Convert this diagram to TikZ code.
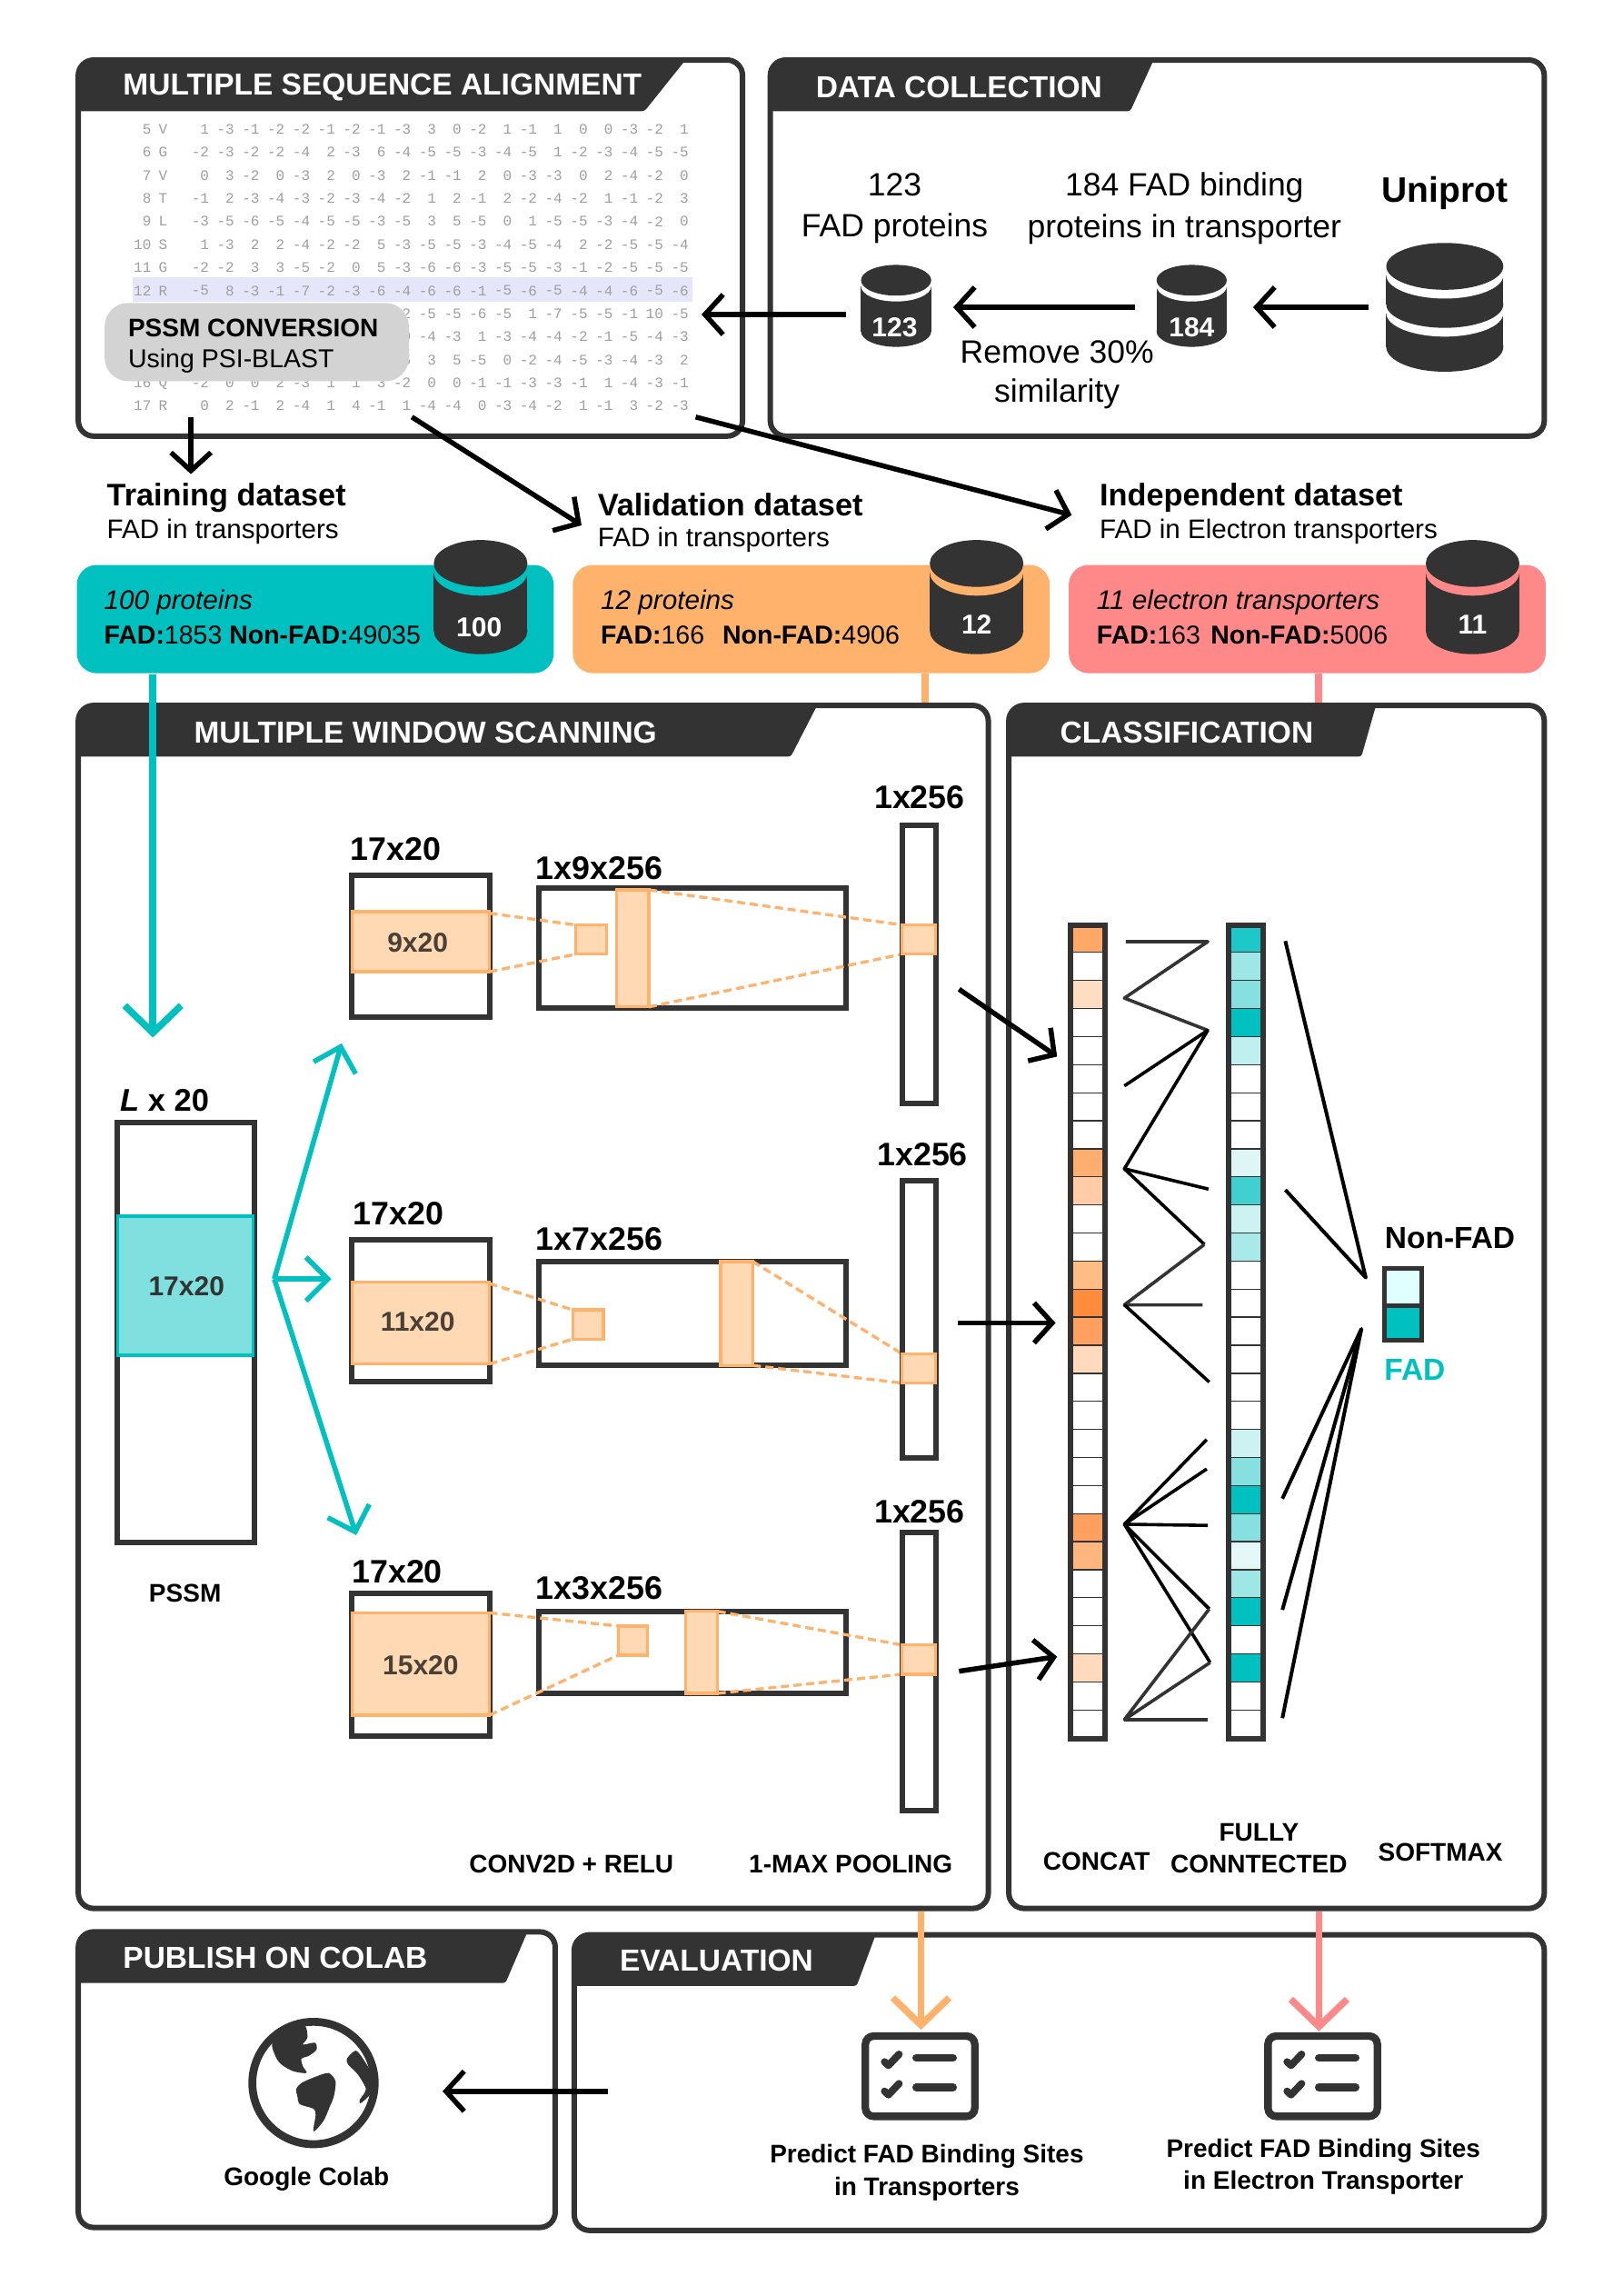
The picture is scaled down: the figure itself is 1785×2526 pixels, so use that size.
\documentclass[tikz,border=0pt]{standalone}
\usepackage{fontspec}
\setmainfont{Liberation Sans}
\newfontfamily\monof{Liberation Mono}
\usetikzlibrary{arrows.meta}
\definecolor{dk}{HTML}{333333}
\definecolor{teal2}{HTML}{00C0C0}
\definecolor{orng}{HTML}{FFB26B}
\definecolor{orlt}{HTML}{FFD9B3}
\definecolor{pnk}{HTML}{FF8888}
\definecolor{telt}{HTML}{80E0E0}
\definecolor{gbox}{HTML}{D3D3D3}
\definecolor{hilite}{HTML}{E6E6FA}
\definecolor{wintxt}{HTML}{4A4036}
\newcommand{\fs}[1]{\fontsize{#1}{40}\selectfont\setlength{\baselineskip}{1.28\dimexpr#1pt\relax}}
\tikzset{
 panel/.style={draw=dk,line width=6pt,rounded corners=17pt,fill=white},
 panelline/.style={draw=dk,line width=6pt,rounded corners=17pt},
 ttl/.style={anchor=west,inner sep=0,text=white,font=\fs{33.5}\bfseries},
 lbl/.style={inner sep=0,font=\fs{35.5}},
 hd/.style={anchor=west,inner sep=0,font=\fs{34.3}\bfseries},
 sub/.style={anchor=west,inner sep=0,font=\fs{29.6}},
 bxtxt/.style={anchor=west,inner sep=0,font=\fs{28.5}},
 bxit/.style={anchor=west,inner sep=0,font=\fs{29.7}\itshape},
 dim/.style={inner sep=0,font=\fs{35.8}\bfseries},
 capt/.style={inner sep=0,font=\fs{28}\bfseries,align=center},
 wintext/.style={inner sep=0,text=wintxt,font=\fs{30}\bfseries},
 box/.style={draw=dk,line width=6pt,fill=white},
 win/.style={draw=orng,line width=3.3pt,fill=orlt},
 dsh/.style={draw=orng,line width=3.3pt,dash pattern=on 9pt off 5pt},
 arr/.style={draw=black,line width=5.5pt,-{Straight Barb[length=20pt,width=44pt,line width=5.5pt]}},
 farr/.style={draw=teal2,line width=5.5pt,-{Straight Barb[length=24pt,width=48pt,line width=5.5pt]}},
 barr/.style={line width=7.5pt,-{Straight Barb[length=30pt,width=62pt,line width=7.5pt]}},
 netln/.style={draw=black,line width=3.6pt,line join=round},
 netgr/.style={draw=dk,line width=3.6pt,line join=round},
 mono/.style={inner sep=0,text=gray!75,font=\monof\fs{16}},
}
% centre x, top, half width, bottom, ry, gap, gap colour
\newcommand{\cyl}[7]{%
 \fill[dk] (#1-#3,#2+#5+#6) rectangle (#1+#3,#4-#5);
 \fill[dk] (#1,#4-#5) ellipse [x radius=#3,y radius=#5];
 \fill[#7] (#1,#2+#5+#6) ellipse [x radius=#3,y radius=#5];
 \fill[dk] (#1,#2+#5) ellipse [x radius=#3,y radius=#5];
}
% x1,y1,x2,y2, tab top x, tab bottom x
\newcommand{\tabhead}[6]{%
 \fill[panel,draw=none] (#1,#2) rectangle (#3,#4);
 \fill[dk,rounded corners=3pt] (#1,#2+12) -- (#1,#2+35) -- (#6,#2+35) -- (#5,#2) -- (#1+3,#2) -- cycle;
}
% cell column: left x, list of colours
\newcommand{\cellcol}[2]{%
 \foreach \cc [count=\ii] in {#2}{%
  \definecolor{cellc}{HTML}{\cc}
  \fill[cellc] (#1,{632+(\ii-1)*556/29}) rectangle (#1+24,{632+\ii*556/29});
  \ifnum\ii<29 \draw[dk,line width=2.6pt] (#1,{632+\ii*556/29}) -- (#1+24,{632+\ii*556/29}); \fi
 }
 \draw[dk,line width=6pt] (#1,632) rectangle (#1+24,1188);
}
\newcommand{\psrow}[4]{% y, index, letter, start col ; values in \rowvals
 \node[mono,anchor=east] at (103,#1) {#2};
 \node[mono] at (111,#1) {#3};
 \foreach \vv [count=\jj from #4] in \rowvals {%
  \node[mono,anchor=east] at ({142.5+(\jj-1)*17.25},#1) {\vv};
 }
}
\newcommand{\chk}[2]{%
 \begin{scope}[shift={(#1pt,-#2pt)},x=.3333pt,y=-.3333pt]
  \draw[dk,line width=8.3pt,rounded corners=9pt,fill=white] (37,30) rectangle (398,295);
  \draw[dk,line width=8.7pt,line cap=round] (205,102) -- (326,102);
  \draw[dk,line width=8.7pt,line cap=round] (205,199) -- (326,199);
  \draw[dk,line width=8pt,line cap=round,line join=round] (100,115) -- (113,127) -- (148,90);
  \draw[dk,line width=8pt,line cap=round,line join=round] (100,212) -- (113,224) -- (148,187);
 \end{scope}
}
\begin{document}
\begin{tikzpicture}
\useasboundingbox (0pt,0pt) rectangle (1785pt,-2526pt);
\fill[white] (0pt,0pt) rectangle (1785pt,-2526pt);
\begin{scope}[xshift=0.8pt,x=1.61pt,y=-1.6101pt,every node/.style={yshift=-1.5pt}]

% ===== panels =====
\tabhead{53}{41}{507}{298}{468}{440}
\tabhead{526}{41}{1055}{298}{788}{772}
\tabhead{53}{482}{675}{1304}{558}{540}
\tabhead{689}{482}{1055}{1304}{940}{930}
\tabhead{53}{1320}{379}{1522}{360}{345}
\tabhead{392}{1322}{1055}{1524}{598}{585}

% ===== PSSM matrix =====
\fill[hilite] (90,189.5) rectangle (473,206.5);
\def\rowvals{1,-3,-1,-2,-2,-1,-2,-1,-3,3,0,-2,1,-1,1,0,0,-3,-2,1}\psrow{87.4}{5}{V}{1}
\def\rowvals{-2,-3,-2,-2,-4,2,-3,6,-4,-5,-5,-3,-4,-5,1,-2,-3,-4,-5,-5}\psrow{103.15}{6}{G}{1}
\def\rowvals{0,3,-2,0,-3,2,0,-3,2,-1,-1,2,0,-3,-3,0,2,-4,-2,0}\psrow{118.9}{7}{V}{1}
\def\rowvals{-1,2,-3,-4,-3,-2,-3,-4,-2,1,2,-1,2,-2,-4,-2,1,-1,-2,3}\psrow{134.65}{8}{T}{1}
\def\rowvals{-3,-5,-6,-5,-4,-5,-5,-3,-5,3,5,-5,0,1,-5,-5,-3,-4,-2,0}\psrow{150.4}{9}{L}{1}
\def\rowvals{1,-3,2,2,-4,-2,-2,5,-3,-5,-5,-3,-4,-5,-4,2,-2,-5,-5,-4}\psrow{166.15}{10}{S}{1}
\def\rowvals{-2,-2,3,3,-5,-2,0,5,-3,-6,-6,-3,-5,-5,-3,-1,-2,-5,-5,-5}\psrow{181.9}{11}{G}{1}
\def\rowvals{-5,8,-3,-1,-7,-2,-3,-6,-4,-6,-6,-1,-5,-6,-5,-4,-4,-6,-5,-6}\psrow{197.65}{12}{R}{1}
\def\rowvals{-2,-5,-5,-6,-5,1,-7,-5,-5,-1,10,-5}\psrow{213.4}{}{}{9}
\def\rowvals{0,-4,-3,1,-3,-4,-4,-2,-1,-5,-4,-3}\psrow{229.15}{}{}{9}
\def\rowvals{-5,3,5,-5,0,-2,-4,-5,-3,-4,-3,2}\psrow{244.9}{}{}{9}
\def\rowvals{-2,0,0,2,-3,1,1,3,-2,0,0,-1,-1,-3,-3,-1,1,-4,-3,-1}\psrow{260.65}{16}{Q}{1}
\def\rowvals{0,2,-1,2,-4,1,4,-1,1,-4,-4,0,-3,-4,-2,1,-1,3,-2,-3}\psrow{276.4}{17}{R}{1}
\fill[gbox,rounded corners=26pt] (71,207) rectangle (279,260.5);
\node[anchor=west,inner sep=0,font=\fs{28}\bfseries] (pssmc) at (87,223) {PSSM CONVERSION};
\node[anchor=west,inner sep=0,font=\fs{28.5}] (psib) at (87,245.5) {Using PSI-BLAST};

% ===== panel outlines =====
\draw[panelline] (53,41) rectangle (507,298);
\draw[panelline] (526,41) rectangle (1055,298);
\draw[panelline] (53,482) rectangle (675,1304);
\draw[panelline] (689,482) rectangle (1055,1304);
\draw[panelline] (53,1320) rectangle (379,1522);
\draw[panelline] (392,1322) rectangle (1055,1524);

% ===== titles =====
\node[ttl] (t1) at (83.5,58.5) {MULTIPLE SEQUENCE ALIGNMENT};
\node[ttl] (t2) at (557,58.5) {DATA COLLECTION};
\node[ttl] (t3) at (132,499.5) {MULTIPLE WINDOW SCANNING};
\node[ttl] (t4) at (724,499.5) {CLASSIFICATION};
\node[ttl] (t5) at (83.5,1337) {PUBLISH ON COLAB};
\node[ttl] (t6) at (423,1339) {EVALUATION};

% ===== data collection =====
\cyl{612}{181}{24}{237}{10.5}{4}{white}
\cyl{814}{181}{24}{237}{10.5}{4}{white}
\fill[dk] (947,214) rectangle (1027,237);
\fill[dk] (987,237) ellipse [x radius=40,y radius=17];
\fill[white] (987,214) ellipse [x radius=40,y radius=16];
\fill[dk] (947,188) rectangle (1027,208);
\fill[dk] (987,208) ellipse [x radius=40,y radius=16];
\fill[white] (987,188) ellipse [x radius=40,y radius=16];
\fill[dk] (987,182) ellipse [x radius=40,y radius=16];
\node[inner sep=0,text=white,font=\fs{30}\bfseries] (n123) at (611,223) {123};
\node[inner sep=0,text=white,font=\fs{30}\bfseries] (n184) at (814,223) {184};
\node[lbl,align=center] (l123) at (611,141.5) {123\\FAD proteins};
\node[lbl,align=center] (l184) at (809,141.5) {184 FAD binding\\proteins in transporter};
\node[inner sep=0,font=\fs{39}\bfseries] (uni) at (987,131) {Uniprot};
\node[lbl,align=center] (rem) at (722,255) {Remove 30\%\\[-3pt]similarity};

% ===== dataset headers and boxes =====
\node[hd] (h1) at (72.5,339) {Training dataset};
\node[sub] (s1) at (72.5,362) {FAD in transporters};
\node[hd] (h2) at (408,344) {Validation dataset};
\node[sub] (s2) at (408,368) {FAD in transporters};
\node[hd] (h3) at (751,339) {Independent dataset};
\node[sub] (s3) at (751,362) {FAD in Electron transporters};

\fill[teal2,rounded corners=22pt] (52,386) rectangle (378,460);
\fill[orng,rounded corners=22pt] (391,386) rectangle (717,460);
\fill[pnk,rounded corners=22pt] (730,386) rectangle (1056,460);
\draw[orng,line width=8pt] (632,460) -- (632,480);
\draw[pnk,line width=8pt] (901,460) -- (901,480);

\cyl{328}{369}{32}{447}{16}{6}{teal2}
\cyl{667}{369}{32}{447}{16}{6}{orng}
\cyl{1006}{369}{32}{447}{16}{6}{pnk}
\node[inner sep=0,text=white,font=\fs{30}\bfseries] (n100) at (327,428) {100};
\node[inner sep=0,text=white,font=\fs{30}\bfseries] (n12) at (667,426) {12};
\node[inner sep=0,text=white,font=\fs{30}\bfseries] (n11) at (1006,426) {11};
\node[bxit] (b1) at (70.5,411) {100 proteins};
\node[bxtxt] (b1b) at (70.5,433) {\textbf{FAD:}1853 \textbf{Non-FAD:}49035};
\node[bxit] (b2) at (410,411) {12 proteins};
\node[bxtxt] (b2b) at (410,433) {\textbf{FAD:}166\hspace{.7em}\textbf{Non-FAD:}4906};
\node[bxit] (b3) at (749,411) {11 electron transporters};
\node[bxtxt] (b3b) at (749,433) {\textbf{FAD:}163\hspace{.4em}\textbf{Non-FAD:}5006};

% ===== top connectors =====
\coordinate (a1s) at (578,214); \coordinate (a1e) at (479,214);
\coordinate (a2s) at (775,209); \coordinate (a2e) at (651,209);
\coordinate (a3s) at (935,209); \coordinate (a3e) at (856,209);
\coordinate (a4s) at (130,284); \coordinate (a4e) at (130,323);
\coordinate (a5s) at (281,284); \coordinate (a5e) at (397,358);
\coordinate (a6s) at (475,284); \coordinate (a6e) at (732,351);
\draw[arr] (a1s) -- (a1e);
\draw[arr] (a2s) -- (a2e);
\draw[arr] (a3s) -- (a3e);
\draw[arr] (a4s) -- (a4e);
\draw[arr] (a5s) -- (a5e);
\draw[arr] (a6s) -- (a6e);

% ===== PSSM =====
\draw[box] (79.5,767) rectangle (173.5,1054);
\draw[draw=teal2,line width=3.3pt,fill=telt] (80,831) rectangle (172.5,926);
\node[inner sep=0,font=\fs{30}\bfseries,text=dk] (w17) at (127,878) {17x20};
\node[inner sep=0,font=\fs{34.5}\bfseries] (lx) at (112,751) {\textit{L} x 20};
\node[capt] (pssm) at (126,1088) {PSSM};

% ===== row 1 =====
\draw[box] (240,598) rectangle (334,695);
\draw[win] (240,623) rectangle (334,664);
\node[wintext] (w1) at (285,643) {9x20};
\node[dim] (d1) at (270,579) {17x20};
\draw[box] (368,607) rectangle (578,689);
\draw[dsh] (334,624) -- (393,632);
\draw[dsh] (334,664) -- (393,652);
\draw[dsh] (443,608) -- (616,632);
\draw[dsh] (443,688) -- (616,652);
\draw[win] (393,632) rectangle (414,652);
\draw[win] (421,608) rectangle (443,688);
\node[dim] (c1) at (409,592) {1x9x256};
\draw[box] (616,564) rectangle (639,754);
\draw[win] (616,632) rectangle (639,652);
\node[dim] (m1) at (628,544) {1x256};

% ===== row 2 =====
\draw[box] (240,847) rectangle (334,944);
\draw[win] (240,876) rectangle (334,932);
\node[wintext] (w2) at (285,902) {11x20};
\node[dim] (d2) at (272,828) {17x20};
\draw[box] (368,862) rectangle (578,933);
\draw[dsh] (334,877) -- (391,895);
\draw[dsh] (334,932) -- (391,915);
\draw[dsh] (514,862) -- (616,925);
\draw[dsh] (514,933) -- (616,945);
\draw[win] (391,895) rectangle (412,915);
\draw[win] (492,862) rectangle (514,933);
\node[dim] (c2) at (409,846) {1x7x256};
\draw[box] (616,807) rectangle (639,996);
\draw[win] (616,925) rectangle (639,945);
\node[dim] (m2) at (630,788) {1x256};

% ===== row 3 =====
\draw[box] (240,1089) rectangle (334,1186);
\draw[win] (240,1102) rectangle (334,1172);
\node[wintext] (w3) at (287,1137) {15x20};
\node[dim] (d3) at (271,1073) {17x20};
\draw[box] (368,1101) rectangle (578,1157);
\draw[dsh] (334,1102) -- (422,1111);
\draw[dsh] (334,1172) -- (422,1131);
\draw[dsh] (490,1101) -- (616,1124);
\draw[dsh] (490,1157) -- (616,1144);
\draw[win] (422,1111) rectangle (442,1131);
\draw[win] (468,1101) rectangle (490,1157);
\node[dim] (c3) at (409,1084) {1x3x256};
\draw[box] (616,1047) rectangle (639,1237);
\draw[win] (616,1124) rectangle (639,1144);
\node[dim] (m3) at (628,1032) {1x256};

% ===== teal arrows =====
\coordinate (ts) at (104,460); \coordinate (te) at (104,708);
\draw[barr,draw=teal2] (ts) -- (te);
\coordinate (fan) at (187,873);
\coordinate (f1) at (233,712); \coordinate (f2) at (226,873); \coordinate (f3) at (243,1048);
\draw[farr] (fan) -- (f1);
\draw[farr] (fan) -- (f2);
\draw[farr] (fan) -- (f3);

% ===== black arrows to concat =====
\coordinate (k1s) at (655,675); \coordinate (k1e) at (722,721);
\coordinate (k2s) at (654,903); \coordinate (k2e) at (721,903);
\coordinate (k3s) at (655,1141); \coordinate (k3e) at (722,1131);
\draw[arr] (k1s) -- (k1e);
\draw[arr] (k2s) -- (k2e);
\draw[arr] (k3s) -- (k3e);

% ===== columns =====
\cellcol{731}{FFA868,FFFFFF,FFDDC0,FFFFFF,FFFFFF,FFFFFF,FFFFFF,FFFFFF,FFAE70,FFCCA5,FFFFFF,FFFFFF,FFBC85,FF8C3C,FFA060,FFDABC,FFFFFF,FFFFFF,FFFFFF,FFFFFF,FFFFFF,FFA060,FFB57E,FFFFFF,FFFFFF,FFFFFF,FFDABC,FFFFFF,FFFFFF}
\cellcol{839}{1CC8C8,9FE6E6,86E0E0,00C0C0,C0EFEF,FFFFFF,FFFFFF,FFFFFF,DFF6F6,40D0D0,CCF2F2,A8EAEA,FFFFFF,FFFFFF,FFFFFF,FFFFFF,FFFFFF,FFFFFF,CCF2F2,86E0E0,00C0C0,86E0E0,E4F8F8,9FE6E6,00C0C0,FFFFFF,00C0C0,FFFFFF,FFFFFF}

% ===== zig-zags =====
\draw[netgr] (769,643.4) -- (825,643.4) -- (768,682) -- (825,704);
\draw[netln] (768,742) -- (825,704) -- (768,798.6) -- (825.5,812.5);
\draw[netln] (768,798.6) -- (822.7,850.3);
\draw[netgr] (822.7,850.3) -- (768,891.6) -- (821.5,891.6);
\draw[netln] (768,891.6) -- (826,944.3);
\draw[netln] (824.3,983.6) -- (768,1041.5) -- (824.3,1003.7);
\draw[netln] (768,1041.5) -- (825,1042.3);
\draw[netln] (826,1099.4) -- (768,1041.5) -- (826.6,1136);
\draw[netgr] (826,1099.4) -- (768,1175) -- (826.6,1136);
\draw[netgr] (768,1175) -- (825,1175);

\draw[netln,line width=4pt] (878,643) -- (933,873) -- (878,813);
\draw[netln,line width=4pt] (876,1024) -- (930,908) -- (876,1100);
\draw[netln,line width=4pt] (930,908) -- (876,1174);

% ===== softmax =====
\draw[dk,line width=5pt,fill={rgb,255:red,224;green,255;blue,255}] (946,867) rectangle (971,892);
\draw[dk,line width=5pt,fill=teal2] (946,892) rectangle (971,916);
\node[inner sep=0,font=\fs{33.5}\bfseries,anchor=center] (nf) at (990.5,845) {Non-FAD};
\node[inner sep=0,font=\fs{33.5}\bfseries,text=teal2] (ff) at (966.5,935) {FAD};

% ===== captions =====
\node[capt] (q1) at (390,1273) {CONV2D + RELU};
\node[capt] (q2) at (581,1273) {1-MAX POOLING};
\node[capt] (q3) at (749,1271) {CONCAT};
\node[capt] (q4) at (860,1262) {FULLY\\CONNTECTED};
\node[capt] (q5) at (984,1265) {SOFTMAX};

% ===== bottom arrows =====
\coordinate (o1) at (629,1305); \coordinate (o2) at (629,1386);
\coordinate (o3) at (901,1305); \coordinate (o4) at (901,1387);
\draw[barr,draw=orng] (o1) -- (o2);
\draw[barr,draw=pnk] (o3) -- (o4);

\coordinate (g1) at (415,1428); \coordinate (g2) at (302,1428);

\node[capt] (gc) at (209,1488) {Google Colab};
\node[capt] (e1) at (633,1483.5) {Predict FAD Binding Sites\\in Transporters};
\node[capt] (e2) at (904,1479.5) {Predict FAD Binding Sites\\in Electron Transporter};
\draw[arr] (g1) -- (g2);
\end{scope}

% ===== icons in reference pixels =====
\chk{940}{2230}
\chk{1383}{2230}
\begin{scope}[shift={(250pt,-2210pt)},x=.3333pt,y=-.3333pt]
 \draw[dk,line width=8.7pt] (285,245) circle [radius=202];
 \fill[dk] plot[smooth cycle,tension=.45] coordinates {(148,115)(190,60)(255,55)(265,95)(250,118)(290,112)(295,135)(270,155)(245,165)(250,190)(262,212)(215,205)(170,175)};
 \fill[dk] plot[smooth cycle,tension=.45] coordinates {(228,265)(245,245)(290,225)(335,212)(358,240)(352,290)(340,320)(318,370)(285,405)(292,350)(285,330)(240,315)(232,290)};
 \fill[dk] plot[smooth cycle,tension=.45] coordinates {(395,165)(425,138)(455,175)(490,240)(470,285)(440,312)(438,300)(458,265)(430,215)(400,185)};
\end{scope}
\end{tikzpicture}
\end{document}
